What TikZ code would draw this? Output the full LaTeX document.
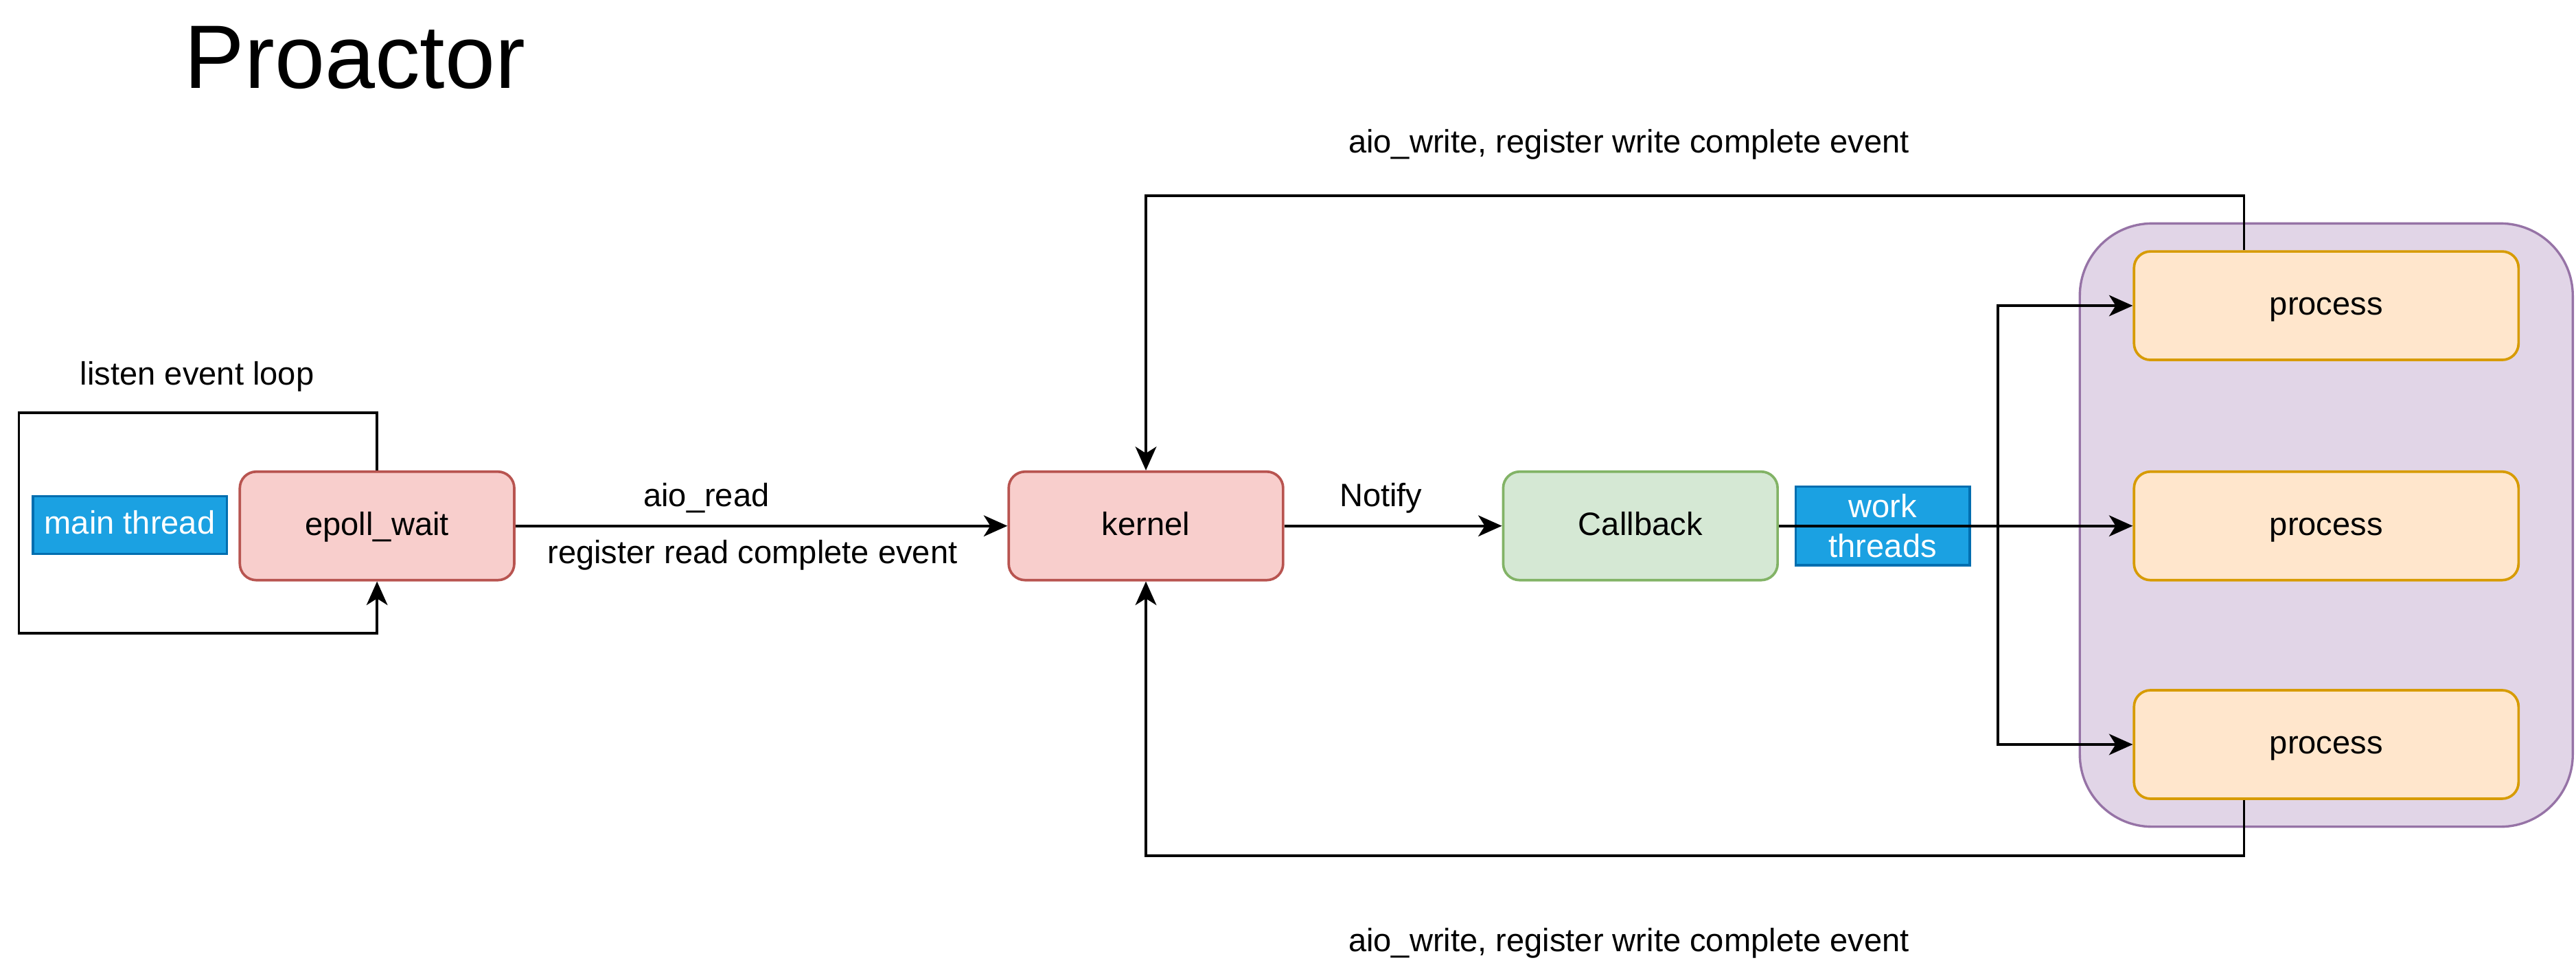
\documentclass[tikz,border=0pt]{standalone}
\usepackage{fontspec}
\setmainfont{Liberation Sans}
\usepackage{xcolor}
\usepackage{tikz}
\usetikzlibrary{arrows.meta,positioning}

\definecolor{redfill}{HTML}{F8CECC}
\definecolor{redline}{HTML}{B85450}
\definecolor{greenfill}{HTML}{D5E8D4}
\definecolor{greenline}{HTML}{82B366}
\definecolor{orangefill}{HTML}{FFE6CC}
\definecolor{orangeline}{HTML}{D79B00}
\definecolor{purplefill}{HTML}{E1D5E7}
\definecolor{purpleline}{HTML}{9673A6}
\definecolor{bluefill}{HTML}{1BA1E2}
\definecolor{blueline}{HTML}{006EAF}

\begin{document}
\begin{tikzpicture}[
            x=0.025cm, y=-0.025cm,
            every node/.append style = {font=\fontsize{14}{16.8}\selectfont},
            midtext/.style = {text height=1em, text depth=0.21em},
            box/.style = {draw, line width=1.1pt, rounded corners=0.25cm,
                minimum width=4.175cm, minimum height=1.65cm, inner sep=0pt, midtext},
            redbox/.style = {box, fill=redfill, draw=redline},
            greenbox/.style = {box, fill=greenfill, draw=greenline},
            procbox/.style = {box, fill=orangefill, draw=orangeline, minimum width=5.85cm},
            tag/.style = {draw=blueline, fill=bluefill, text=white, line width=1pt, inner sep=0pt},
            link/.style = {draw, line width=1.1pt,
                -{Stealth[length=0.36cm, width=0.32cm, inset=0.1cm]}}]
        \useasboundingbox (0,0) rectangle (1568,588);
        \node (ntitle) at (216,35) {\fontsize{39}{45}\selectfont Proactor};
        \node (nloop) at (120,229) {listen event loop};
        \node[tag, midtext, minimum width=2.95cm, minimum height=0.875cm] (nmain) at (79,319.5) {main thread};
        \node[redbox] (nepoll) at (229.5,320) {epoll\_wait};
        \node[redbox] (nkern) at (697.5,320) {kernel};
        \node[greenbox] (ncb) at (998.5,320) {Callback};
        \node[tag, minimum width=2.65cm, minimum height=1.2cm, align=center,
            font=\fontsize{14}{17}\selectfont] (nwork) at (1146,320) {work\\threads};
        \node[draw=purpleline, fill=purplefill, line width=1pt, rounded corners=1.1cm,
            minimum width=7.5cm, minimum height=9.175cm] (ngroup) at (1416,319.5) {};
        \node[procbox] (np1) at (1416,186) {process};
        \node[procbox] (np2) at (1416,320) {process};
        \node[procbox] (np3) at (1416,453) {process};
        \coordinate (nsplit) at (1216,320);
        % event loop
        \draw[link] (nepoll.north) -- ++(0,-35) -| ++(-218,134) -| (nepoll.south);
        % read path
        \draw[link] (nepoll.east) -- (nkern.west);
        \node (nread) at (430,303) {aio\_read};
        \node (nreg) at (458,338) {register read complete event};
        \draw[link] (nkern.east) -- (ncb.west);
        \node (nnotify) at (840.5,303) {Notify};
        % work threads
        \draw[link] (ncb.east) -- (np2.west);
        \draw[link] (nsplit) |- (np1.west);
        \draw[link] (nsplit) |- (np3.west);
        % write back
        \draw[link] ([xshift=-1.25cm]np1.north) -- ++(0,-33) -| (nkern.north);
        \draw[link] ([xshift=-1.25cm]np3.south) -- ++(0,34) -| (nkern.south);
        \node (nwtop) at (991.5,88) {aio\_write, register write complete event};
        \node (nwbot) at (991.5,574) {aio\_write, register write complete event};
        \end{tikzpicture}
\end{document}
